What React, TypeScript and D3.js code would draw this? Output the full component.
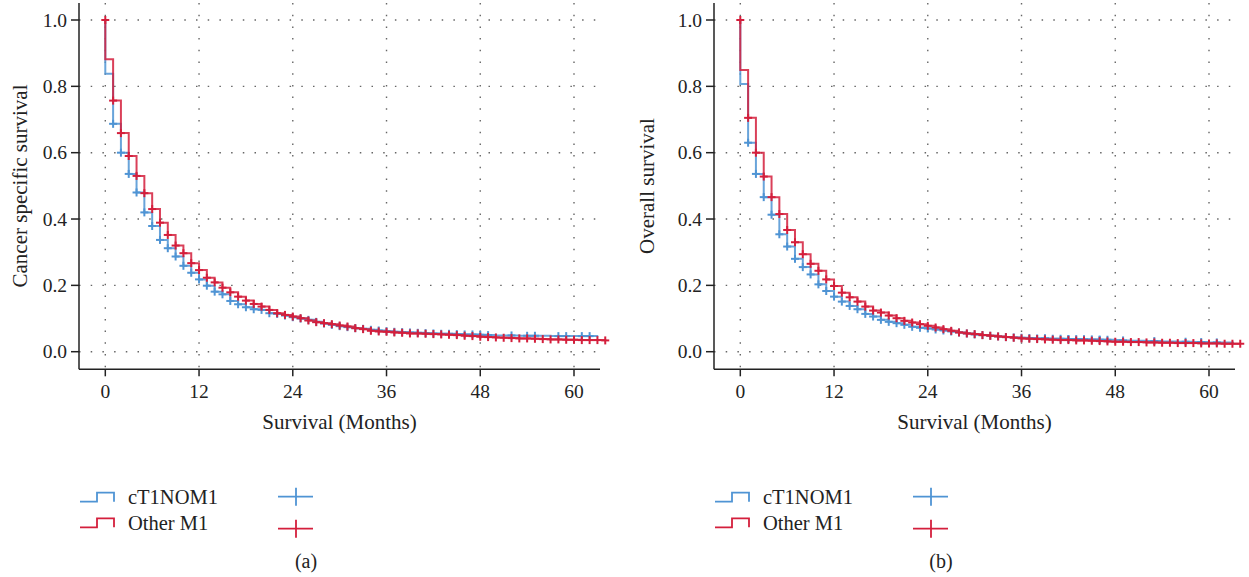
import React from "react";
import * as d3 from "d3";

// ---- Data (survival probability at end of each month, index = month) ----
const csBlue = [0.838, 0.687, 0.600, 0.536, 0.480, 0.420, 0.379, 0.337, 0.312, 0.287, 0.259, 0.238, 0.218, 0.199, 0.181, 0.173, 0.153, 0.143, 0.134, 0.128, 0.126, 0.116, 0.114, 0.109, 0.104, 0.100, 0.096, 0.090, 0.085, 0.081, 0.077, 0.074, 0.071, 0.069, 0.066, 0.064, 0.062, 0.060, 0.059, 0.058, 0.057, 0.056, 0.055, 0.054, 0.054, 0.053, 0.052, 0.052, 0.051, 0.050, 0.049, 0.049, 0.049, 0.048, 0.048, 0.048, 0.048, 0.047, 0.047, 0.047, 0.047, 0.047, 0.047, 0.047];
const csRed = [0.882, 0.757, 0.659, 0.590, 0.530, 0.478, 0.430, 0.389, 0.352, 0.320, 0.297, 0.267, 0.246, 0.223, 0.209, 0.193, 0.179, 0.166, 0.154, 0.144, 0.136, 0.126, 0.116, 0.111, 0.106, 0.101, 0.094, 0.089, 0.086, 0.083, 0.079, 0.076, 0.071, 0.068, 0.063, 0.061, 0.060, 0.058, 0.057, 0.055, 0.055, 0.054, 0.053, 0.052, 0.051, 0.050, 0.048, 0.047, 0.045, 0.044, 0.043, 0.042, 0.041, 0.040, 0.040, 0.039, 0.038, 0.037, 0.037, 0.036, 0.036, 0.035, 0.035, 0.035, 0.034];
const osBlue = [0.807, 0.630, 0.536, 0.466, 0.413, 0.354, 0.317, 0.280, 0.255, 0.233, 0.203, 0.183, 0.166, 0.151, 0.138, 0.128, 0.114, 0.106, 0.096, 0.090, 0.086, 0.081, 0.075, 0.072, 0.070, 0.067, 0.064, 0.061, 0.058, 0.055, 0.052, 0.050, 0.048, 0.046, 0.044, 0.043, 0.042, 0.041, 0.040, 0.040, 0.039, 0.039, 0.038, 0.038, 0.037, 0.037, 0.036, 0.036, 0.035, 0.034, 0.033, 0.033, 0.032, 0.032, 0.031, 0.031, 0.030, 0.030, 0.029, 0.029, 0.028, 0.028, 0.028, 0.027];
const osRed = [0.849, 0.705, 0.600, 0.528, 0.466, 0.415, 0.367, 0.330, 0.294, 0.265, 0.244, 0.218, 0.198, 0.178, 0.164, 0.151, 0.136, 0.124, 0.118, 0.109, 0.101, 0.093, 0.088, 0.083, 0.078, 0.073, 0.068, 0.063, 0.058, 0.055, 0.053, 0.050, 0.048, 0.046, 0.044, 0.042, 0.040, 0.039, 0.038, 0.037, 0.036, 0.035, 0.035, 0.034, 0.034, 0.033, 0.032, 0.031, 0.030, 0.030, 0.029, 0.029, 0.028, 0.028, 0.027, 0.027, 0.026, 0.026, 0.026, 0.025, 0.025, 0.025, 0.024, 0.024, 0.024];

const blueEndA = 63.1;
const blueEndB = 63.2;
const blueCensorLateA = [48, 49, 52, 54, 55, 58, 59, 61, 62];
const blueCensorLateB = [39, 42, 44, 46, 49, 53, 57, 59, 61];

const xTicks = [0, 12, 24, 36, 48, 60];
const yTicks = [0, 0.2, 0.4, 0.6, 0.8, 1.0];
const groups = ["cT1NOM1", "Other M1"];
const panelLabels = ["(a)", "(b)"];
const yTitles = ["Cancer specific survival", "Overall survival"];
const xTitle = "Survival (Months)";

const BLUE = "#4f94d4";
const RED = "#d41f3c";
const FONT = "'Liberation Serif', 'Times New Roman', serif";

function stepPath(values: number[], end: number | null, x: any, y: any) {
  const pts: [number, number][] = [[0, 1]];
  values.forEach((v, i) => pts.push([i, v]));
  if (end !== null) pts.push([end, values[values.length - 1]]);
  const line = d3.line<[number, number]>().x(d => x(d[0])).y(d => y(d[1])).curve(d3.curveStepAfter);
  return line(pts) || "";
}

function Cross({ cx, cy, color, s = 4 }: any) {
  return (
    <g stroke={color} strokeWidth={2}>
      <line x1={cx - s} x2={cx + s} y1={cy} y2={cy} />
      <line x1={cx} x2={cx} y1={cy - s} y2={cy + s} />
    </g>
  );
}

function Panel({ dx, blue, red, blueEnd, blueLate, yTitle, yTitleX, label }: any) {
  const x = d3.scaleLinear().domain([0, 60]).range([105.3 + dx, 574 + dx]);
  const y = d3.scaleLinear().domain([0, 1]).range([351.7, 20]);
  const axL = 79 + dx, axR = 600 + dx, axB = 369.3, axT = 3;
  const blueCrossMonths = d3.range(1, 48).concat(blueLate);
  const redCrossMonths = d3.range(1, red.length);
  return (
    <g fontFamily={FONT} fill="#222">
      {/* grid */}
      <g stroke="#666" strokeWidth={1.4} strokeDasharray="1.5 10.2">
        {yTicks.map(t => (
          <line key={"h" + t} x1={axL} x2={axR} y1={y(t)} y2={y(t)} />
        ))}
        {xTicks.map(t => (
          <line key={"v" + t} x1={x(t)} x2={x(t)} y1={axT} y2={axB} />
        ))}
      </g>
      {/* axes */}
      <g stroke="#222" strokeWidth={1.5}>
        <line x1={axL} x2={axL} y1={axT} y2={axB} />
        <line x1={axL} x2={axR} y1={axB} y2={axB} />
        {yTicks.map(t => (
          <line key={"yt" + t} x1={axL - 8} x2={axL} y1={y(t)} y2={y(t)} />
        ))}
        {xTicks.map(t => (
          <line key={"xt" + t} x1={x(t)} x2={x(t)} y1={axB} y2={axB + 7} />
        ))}
      </g>
      {yTicks.map(t => (
        <text key={"yl" + t} x={axL - 12} y={y(t) + 6.5} textAnchor="end" fontSize={19.5}>
          {d3.format(".1f")(t)}
        </text>
      ))}
      {xTicks.map(t => (
        <text key={"xl" + t} x={x(t)} y={397.5} textAnchor="middle" fontSize={19.5}>
          {t}
        </text>
      ))}
      <text x={(axL + axR) / 2} y={429} textAnchor="middle" fontSize={21}>{xTitle}</text>
      <text transform={`translate(${yTitleX},186) rotate(-90)`} textAnchor="middle" fontSize={21}>{yTitle}</text>

      {/* curves */}
      <path d={stepPath(blue, blueEnd, x, y)} fill="none" stroke={BLUE} strokeWidth={2} strokeOpacity={0.85} />
      {blueCrossMonths.filter((m: number) => m < blue.length).map((m: number) => (
        <Cross key={"bc" + m} cx={x(m)} cy={y(blue[m])} color={BLUE} />
      ))}
      <path d={stepPath(red, null, x, y)} fill="none" stroke={RED} strokeWidth={2} strokeOpacity={0.85} />
      <Cross cx={x(0)} cy={y(1)} color={RED} />
      {redCrossMonths.map((m: number) => (
        <Cross key={"rc" + m} cx={x(m)} cy={y(red[m])} color={RED} />
      ))}

      {/* legend */}
      {[BLUE, RED].map((c, i) => {
        const base = i === 0 ? 501.7 : 527.3;
        const top = base - 9;
        const lx = 80 + dx;
        const cy = i === 0 ? 496.7 : 528.7;
        return (
          <g key={"lg" + i}>
            <path d={`M${lx},${base}H${lx + 17}V${top}H${lx + 34}V${base}`} fill="none" stroke={c} strokeWidth={1.8} />
            <text x={128 + dx} y={i === 0 ? 503.5 : 530} fontSize={20.5}>{groups[i]}</text>
            <line x1={278 + dx} x2={313 + dx} y1={cy} y2={cy} stroke={c} strokeWidth={1.8} />
            <line x1={296 + dx} x2={296 + dx} y1={cy - 9} y2={cy + 9} stroke={c} strokeWidth={1.8} />
          </g>
        );
      })}
      <text x={306 + dx} y={568} textAnchor="middle" fontSize={20}>{label}</text>
    </g>
  );
}

export default function App() {
  return (
    <svg width={1249} height={577} style={{ position: "absolute", left: 0, top: 0, background: "#fff" }}>
      <rect width={1249} height={577} fill="#fff" />
      <Panel dx={0} blue={csBlue} red={csRed} blueEnd={blueEndA} blueLate={blueCensorLateA} yTitle={yTitles[0]} yTitleX={27} label={panelLabels[0]} />
      <Panel dx={635} blue={osBlue} red={osRed} blueEnd={blueEndB} blueLate={blueCensorLateB} yTitle={yTitles[1]} yTitleX={654} label={panelLabels[1]} />
    </svg>
  );
}
